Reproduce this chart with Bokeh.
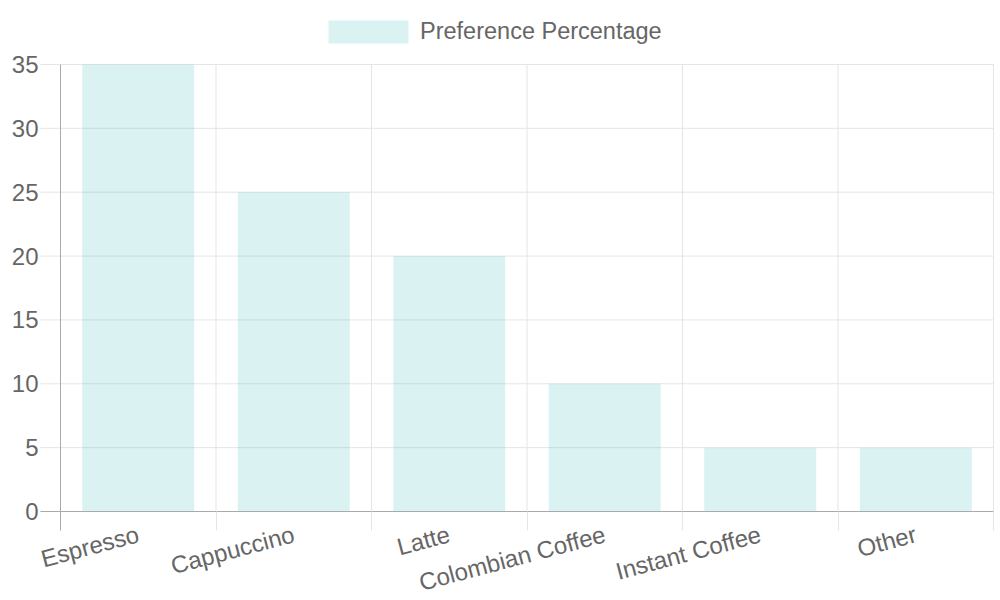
import numpy as np
from bokeh.plotting import figure
from bokeh.models import (Range1d, FixedTicker, Legend, LegendItem, ColumnDataSource)
from bokeh.embed import file_html
from bokeh.resources import INLINE

# ---- data ----
categories = ["Espresso", "Cappuccino", "Latte", "Colombian Coffee", "Instant Coffee", "Other"]
preference = [35, 25, 20, 10, 5, 5]
y_ticks = [0, 5, 10, 15, 20, 25, 30, 35]
series_name = "Preference Percentage"

positions = list(range(len(categories)))
boundaries = [i - 0.5 for i in range(len(categories) + 1)]

FONT = "Liberation Sans"
TXT = "#666666"
GRID = "#e5e5e5"
AXIS = "#aaaaaa"

# layout (pixels): the frame fills the whole canvas; both axes are pinned
H, W = 600, 1000
LEFT, RIGHT = 60, 993     # x of the first / last category boundary
ZERO_PX = 511             # where y=0 sits
TOP_PX = 64               # where the top tick sits
TICK_LEN = 19
YTICK_LEN = 20
ymin, ymax = y_ticks[0], y_ticks[-1]
per_px = (ymax - ymin) / (ZERO_PX - TOP_PX)
x_per_px = len(categories) / (RIGHT - LEFT)
x0, x1 = boundaries[0], boundaries[-1]

p = figure(width=W, height=H,
           x_range=Range1d(x0 - LEFT * x_per_px, x1 + (W - RIGHT) * x_per_px),
           y_range=Range1d(ymin - (H - ZERO_PX) * per_px, ymax + TOP_PX * per_px),
           output_backend="svg", toolbar_location=None,
           min_border_left=0, min_border_right=0,
           min_border_top=0, min_border_bottom=0)
p.outline_line_color = None
p.background_fill_color = "white"
p.xgrid.visible = False
p.ygrid.visible = False

# grid lines (horizontal ones continue 20px left of the axis as tick marks)
p.segment(x0=boundaries, y0=[ymin] * len(boundaries),
          x1=boundaries, y1=[ymax] * len(boundaries),
          line_color=GRID, line_width=1, level="underlay")
p.segment(x0=[x0 - YTICK_LEN * x_per_px] * len(y_ticks), y0=y_ticks,
          x1=[x1] * len(y_ticks), y1=y_ticks,
          line_color=GRID, line_width=1, level="underlay")

src = ColumnDataSource(dict(x=positions, top=preference, name=categories))
bars = p.vbar(x="x", top="top", width=0.72, source=src,
              fill_color=(75, 192, 192), fill_alpha=0.2, line_color=None)

legend = Legend(items=[LegendItem(label=series_name, renderers=[bars])],
                orientation="horizontal", location=(318, H - 46),
                glyph_width=100, glyph_height=29, label_standoff=2,
                padding=0, margin=0, spacing=0,
                border_line_color=None, background_fill_alpha=0,
                label_text_font=FONT, label_text_font_size="23.5px",
                label_text_color=TXT)
p.add_layout(legend, "center")

# x axis, pinned at y = 0
xa = p.xaxis[0]
xa.fixed_location = ymin
xa.bounds = (x0 - YTICK_LEN * x_per_px, x1)
xa.ticker = FixedTicker(ticks=positions, minor_ticks=boundaries)
xa.major_label_overrides = {i: c for i, c in zip(positions, categories)}
xa.major_label_orientation = 0.26
xa.major_tick_out = 0
xa.major_tick_in = 0
xa.major_tick_line_color = None
xa.minor_tick_out = TICK_LEN
xa.minor_tick_in = 0
xa.minor_tick_line_color = GRID
xa.axis_line_color = AXIS
xa.major_label_standoff = 3
xa.major_label_text_font = FONT
xa.major_label_text_font_size = "24px"
xa.major_label_text_color = TXT

# y axis, pinned at the first category boundary
ya = p.yaxis[0]
ya.fixed_location = x0
ya.ticker = FixedTicker(ticks=y_ticks)
ya.bounds = (ymin - TICK_LEN * per_px, ymax)
ya.major_tick_out = YTICK_LEN
ya.major_tick_in = 0
ya.major_tick_line_color = None
ya.minor_tick_line_color = None
ya.axis_line_color = AXIS
ya.major_label_standoff = 2
ya.major_label_text_font = FONT
ya.major_label_text_font_size = "24px"
ya.major_label_text_color = TXT

open("out.html", "w").write(file_html(p, INLINE))
